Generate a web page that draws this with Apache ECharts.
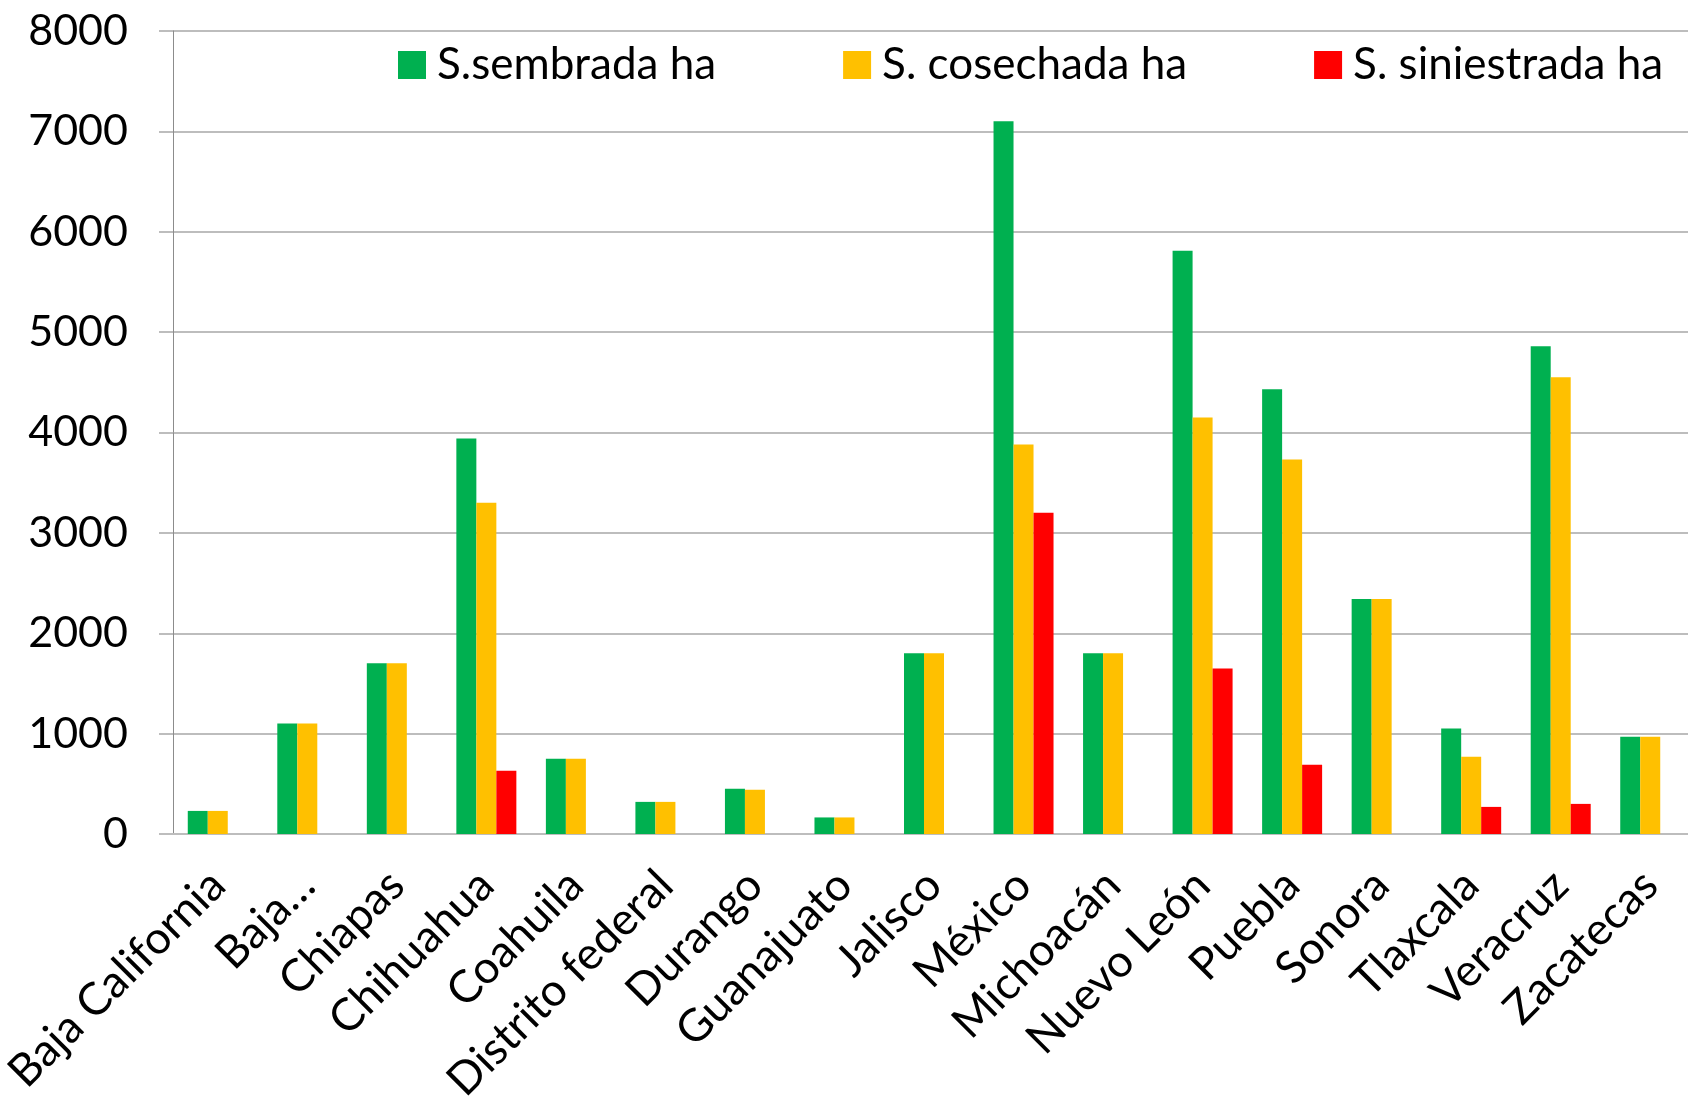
<!DOCTYPE html>
<html>
<head>
<meta charset="utf-8">
<script src="https://cdn.jsdelivr.net/npm/echarts@6/dist/echarts.min.js"></script>
<style>
  html, body { margin: 0; padding: 0; background: #fff; }
  #main { width: 1688px; height: 1099px; }
</style>
</head>
<body>
<div id="main"></div>
<script>
// datos por estado
var estados = ['Baja California', 'Baja…', 'Chiapas', 'Chihuahua', 'Coahuila',
  'Distrito federal', 'Durango', 'Guanajuato', 'Jalisco', 'México', 'Michoacán',
  'Nuevo León', 'Puebla', 'Sonora', 'Tlaxcala', 'Veracruz', 'Zacatecas'];
var sembrada = [230, 1100, 1700, 3940, 750, 320, 450, 165, 1800, 7100, 1800, 5810, 4430, 2340, 1050, 4860, 970];
var cosechada = [230, 1100, 1700, 3300, 750, 320, 440, 165, 1800, 3880, 1800, 4150, 3730, 2340, 770, 4550, 970];
var siniestrada = [0, 0, 0, 630, 0, 0, 0, 0, 0, 3200, 0, 1650, 690, 0, 270, 300, 0];
var yTicks = [0, 1000, 2000, 3000, 4000, 5000, 6000, 7000, 8000];

var chart = echarts.init(document.getElementById('main'));

var fuente = 'Lato, "Noto Sans", sans-serif';

var option = {
  animation: false,
  backgroundColor: '#ffffff',
  grid: { left: 173, top: 31, right: -7, bottom: 265, outerBoundsMode: 'none', containLabel: false },
  legend: {
    left: 393,
    top: 38,
    itemWidth: 28,
    itemHeight: 28,
    itemGap: 127,
    icon: 'rect',
    textStyle: { fontSize: 44, fontFamily: fuente, color: '#000', padding: [0, 0, 0, 6] },
    data: ['S.sembrada ha', 'S. cosechada ha', 'S. siniestrada ha']
  },
  xAxis: {
    type: 'category',
    data: estados,
    axisLine: { lineStyle: { color: '#bdbdbd', width: 2 } },
    axisTick: { length: 18, lineStyle: { color: '#8c8c8c', width: 1 } },
    axisLabel: {
      interval: 0,
      rotate: 45,
      margin: 44,
      fontSize: 45,
      fontFamily: fuente,
      color: '#000'
    }
  },
  yAxis: {
    type: 'value',
    min: yTicks[0],
    max: yTicks[yTicks.length - 1],
    interval: 1000,
    axisLine: { show: true, lineStyle: { color: '#8c8c8c', width: 1 } },
    axisTick: { show: true, length: 14, lineStyle: { color: '#bdbdbd', width: 2 } },
    axisLabel: {
      margin: 45, fontSize: 43, fontFamily: fuente, color: '#000',
      formatter: function (v) { return String(v); }
    },
    splitLine: { lineStyle: { color: '#bdbdbd', width: 2 } }
  },
  series: [
    { name: 'S.sembrada ha', type: 'bar', data: sembrada, barWidth: 20, barGap: '0%', itemStyle: { color: '#00b050' } },
    { name: 'S. cosechada ha', type: 'bar', data: cosechada, barWidth: 20, barGap: '0%', itemStyle: { color: '#ffc000' } },
    { name: 'S. siniestrada ha', type: 'bar', data: siniestrada, barWidth: 20, barGap: '0%', itemStyle: { color: '#ff0000' } }
  ]
};

chart.setOption(option);
</script>
</body>
</html>
